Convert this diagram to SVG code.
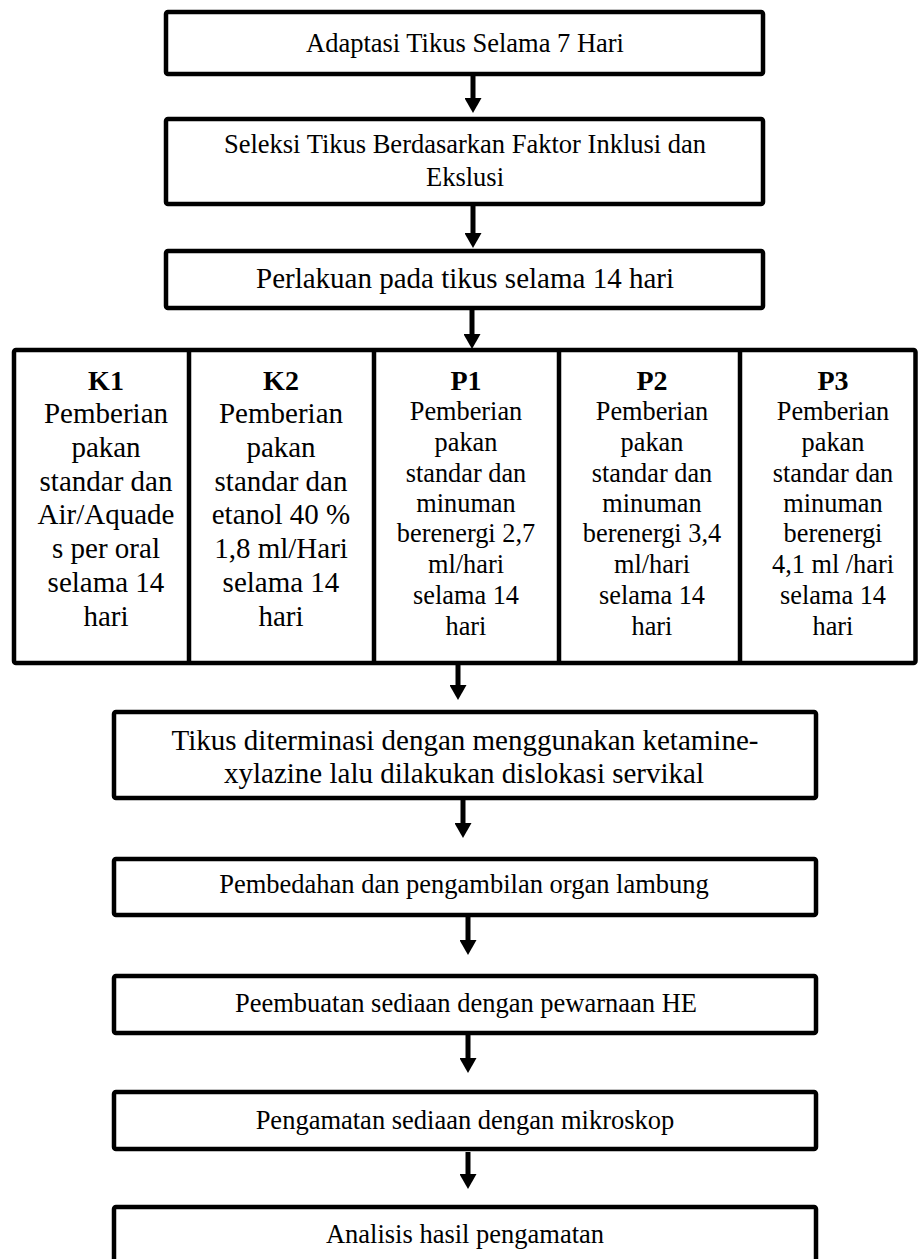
<svg xmlns="http://www.w3.org/2000/svg" width="920" height="1259" viewBox="0 0 920 1259">
<style>
.box{fill:#fff;stroke:#000;stroke-width:4.5;stroke-linejoin:round}
.div{stroke:#000;stroke-width:4.5}
.t{font-family:"Liberation Serif","Times New Roman",serif;fill:#000;text-anchor:middle}
.s26{font-size:26.5px}
.s29{font-size:29px}
.k{font-size:29px}
.p{font-size:26.3px}
.h{font-size:28px;font-weight:bold}
.conn{stroke:#000;stroke-width:5;fill:none;marker-end:url(#ah)}
</style>
<defs>
<marker id="ah" markerUnits="userSpaceOnUse" markerWidth="17" markerHeight="17" viewBox="0 0 15 17" refX="5" refY="8.5" orient="auto">
<path d="M0,0 L15,8.5 L0,17 z" fill="#000"/>
</marker>
</defs>
<rect width="920" height="1259" fill="#fff"/>
<g id="connectors">
<line class="conn" x1="473" y1="76" x2="473" y2="103"/>
<line class="conn" x1="473" y1="206" x2="473" y2="238"/>
<line class="conn" x1="472" y1="310" x2="472" y2="339"/>
<line class="conn" x1="458" y1="663" x2="458" y2="690"/>
<line class="conn" x1="463" y1="800" x2="463" y2="828"/>
<line class="conn" x1="468" y1="917" x2="468" y2="945"/>
<line class="conn" x1="468" y1="1035" x2="468" y2="1063"/>
<line class="conn" x1="468" y1="1152" x2="468" y2="1179"/>
</g>
<g id="n1">
<rect class="box" x="166" y="12" width="597" height="62" rx="2"/>
<text class="t s26" x="465" y="52">Adaptasi Tikus Selama 7 Hari</text>
</g>
<g id="n2">
<rect class="box" x="166" y="119" width="597" height="85" rx="2"/>
<text class="t s26" x="465" y="153">Seleksi Tikus Berdasarkan Faktor Inklusi dan</text>
<text class="t s26" x="465" y="186">Ekslusi</text>
</g>
<g id="n3">
<rect class="box" x="166" y="251" width="597" height="57" rx="2"/>
<text class="t s29" x="465" y="288">Perlakuan pada tikus selama 14 hari</text>
</g>
<g id="n4">
<rect class="box" x="14" y="350" width="901.5" height="313" rx="2"/>
<line class="div" x1="189" y1="350" x2="189" y2="663"/>
<line class="div" x1="374" y1="350" x2="374" y2="663"/>
<line class="div" x1="559" y1="350" x2="559" y2="663"/>
<line class="div" x1="740" y1="350" x2="740" y2="663"/>
<g id="k1">
<text class="t h" x="106" y="390">K1</text>
<text class="t k" x="106" y="423">Pemberian</text>
<text class="t k" x="106" y="457">pakan</text>
<text class="t k" x="106" y="491">standar dan</text>
<text class="t k" x="106" y="524">Air/Aquade</text>
<text class="t k" x="106" y="558">s per oral</text>
<text class="t k" x="106" y="592">selama 14</text>
<text class="t k" x="106" y="626">hari</text>
</g>
<g id="k2">
<text class="t h" x="281" y="390">K2</text>
<text class="t k" x="281" y="423">Pemberian</text>
<text class="t k" x="281" y="457">pakan</text>
<text class="t k" x="281" y="491">standar dan</text>
<text class="t k" x="281" y="524">etanol 40 %</text>
<text class="t k" x="281" y="558">1,8 ml/Hari</text>
<text class="t k" x="281" y="592">selama 14</text>
<text class="t k" x="281" y="626">hari</text>
</g>
<g id="p1">
<text class="t h" x="466" y="390">P1</text>
<text class="t p" x="466" y="420">Pemberian</text>
<text class="t p" x="466" y="451">pakan</text>
<text class="t p" x="466" y="482">standar dan</text>
<text class="t p" x="466" y="512">minuman</text>
<text class="t p" x="466" y="542">berenergi 2,7</text>
<text class="t p" x="466" y="573">ml/hari</text>
<text class="t p" x="466" y="604">selama 14</text>
<text class="t p" x="466" y="635">hari</text>
</g>
<g id="p2">
<text class="t h" x="652" y="390">P2</text>
<text class="t p" x="652" y="420">Pemberian</text>
<text class="t p" x="652" y="451">pakan</text>
<text class="t p" x="652" y="482">standar dan</text>
<text class="t p" x="652" y="512">minuman</text>
<text class="t p" x="652" y="542">berenergi 3,4</text>
<text class="t p" x="652" y="573">ml/hari</text>
<text class="t p" x="652" y="604">selama 14</text>
<text class="t p" x="652" y="635">hari</text>
</g>
<g id="p3">
<text class="t h" x="833" y="390">P3</text>
<text class="t p" x="833" y="420">Pemberian</text>
<text class="t p" x="833" y="451">pakan</text>
<text class="t p" x="833" y="482">standar dan</text>
<text class="t p" x="833" y="512">minuman</text>
<text class="t p" x="833" y="542">berenergi</text>
<text class="t p" x="833" y="573">4,1 ml /hari</text>
<text class="t p" x="833" y="604">selama 14</text>
<text class="t p" x="833" y="635">hari</text>
</g>
</g>
<g id="n5">
<rect class="box" x="114" y="712" width="702" height="86" rx="2"/>
<text class="t s29" x="465" y="750">Tikus diterminasi dengan menggunakan ketamine-</text>
<text class="t s29" x="464" y="783">xylazine lalu dilakukan dislokasi servikal</text>
</g>
<g id="n6">
<rect class="box" x="114" y="859" width="702" height="56" rx="2"/>
<text class="t s26" x="464" y="893">Pembedahan dan pengambilan organ lambung</text>
</g>
<g id="n7">
<rect class="box" x="114" y="976" width="702" height="57" rx="2"/>
<text class="t s26" x="466" y="1012">Peembuatan sediaan dengan pewarnaan HE</text>
</g>
<g id="n8">
<rect class="box" x="114" y="1092" width="702" height="57" rx="2"/>
<text class="t s26" x="465" y="1129">Pengamatan sediaan dengan mikroskop</text>
</g>
<g id="n9">
<rect class="box" x="114" y="1207" width="702" height="80" rx="2"/>
<text class="t s26" x="465" y="1243">Analisis hasil pengamatan</text>
</g>
</svg>
